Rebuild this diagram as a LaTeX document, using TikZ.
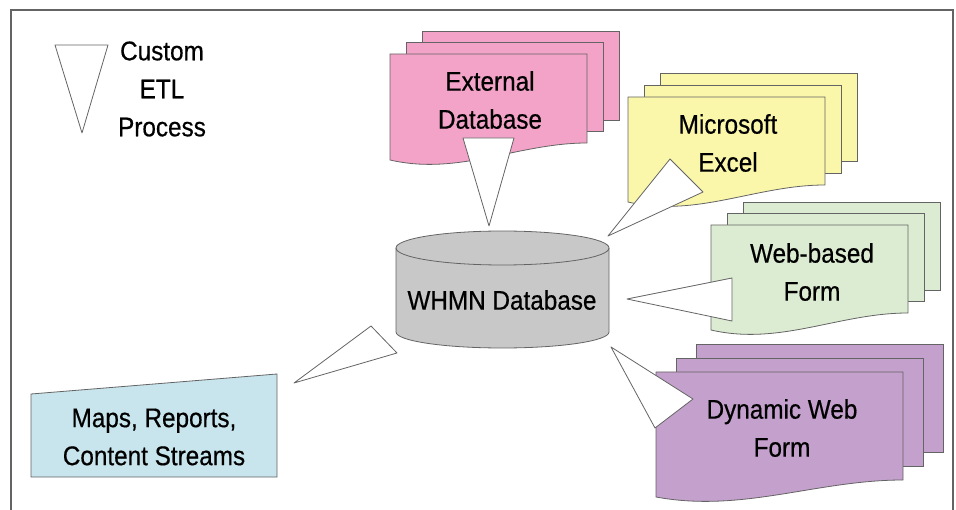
\documentclass[tikz,border=0pt]{standalone}
\usepackage{fontspec}
\setmainfont{Liberation Sans}[FakeStretch=0.9, FakeBold=0.5]
\definecolor{extpink}{RGB}{242,163,199}
\definecolor{xlsyellow}{RGB}{250,246,170}
\definecolor{webgreen}{RGB}{220,236,210}
\definecolor{dynpurple}{RGB}{196,160,204}
\definecolor{mapblue}{RGB}{200,228,236}
\definecolor{dbgray}{RGB}{200,200,200}
\definecolor{edgegray}{RGB}{100,100,100}
\tikzset{
  page/.style={draw=edgegray, line width=0.8pt},
  etl/.style={draw=edgegray, line width=0.8pt, fill=white, line join=round},
  label/.style={align=center, inner sep=0pt, font=\fontsize{27}{38}\selectfont},
}
% stack of three pages: fill, left, right, top, left bottom, right bottom, back dx, back dy
\newcommand{\docstack}[8]{%
  \draw[page, fill=#1] ({#2+#7},{#4-#8}) rectangle ({#3+#7},{#6-#8});
  \draw[page, fill=#1] ({#2+#7/2},{#4-#8/2}) rectangle ({#3+#7/2},{#6-#8/2});
  \draw[page, fill=#1] (#2,#4) -- (#3,#4) -- (#3,#6)
    .. controls ({#3-0.35*(#3-#2)},#6) and ({#2+0.35*(#3-#2)},{#5+16}) .. (#2,#5) -- cycle;
}
\begin{document}
\begin{tikzpicture}[x=1pt, y=-1pt]
  \useasboundingbox (0,0) rectangle (956,510);
  % outer frame, open at the bottom
  \draw[edgegray, line width=1.2pt] (11,515) -- (11,10) -- (953,10) -- (953,515);

  % sources
  \docstack{extpink}{390}{587}{54}{160}{143}{32}{23}
  \docstack{xlsyellow}{628}{825}{97}{202}{185}{32}{24}
  \docstack{webgreen}{711}{908}{225}{330}{313}{32}{23}
  \docstack{dynpurple}{656}{903}{372}{497}{480}{40}{28}

  % output
  \draw[page, fill=mapblue] (31,394) -- (277,374) -- (277,477) -- (31,477) -- cycle;

  % central database
  \draw[page, fill=dbgray] (396,248) -- (396,332)
    arc[start angle=180, end angle=0, x radius=106.5, y radius=16]
    -- (609,248) arc[start angle=0, end angle=-180, x radius=106.5, y radius=17] -- cycle;
  \draw[page] (396,248) arc[start angle=180, end angle=0, x radius=106.5, y radius=17];

  % ETL wedges
  \draw[etl] (55,45) -- (108,45) -- (82,133) -- cycle;
  \draw[etl] (463,138) -- (514,138) -- (489,226) -- cycle;
  \draw[etl] (670,159) -- (703,192) -- (608,236) -- cycle;
  \draw[etl] (732,278) -- (732,321) -- (627,299) -- cycle;
  \draw[etl] (611,347) -- (693,399) -- (655,428) -- cycle;
  \draw[etl] (371,326) -- (397,353) -- (294,383) -- cycle;

  % texts
  \node[label] (legend) at (162,89) {Custom\\ETL\\Process};
  \node[label] (ext) at (490,100) {External\\Database};
  \node[label] (excel) at (728,143) {Microsoft\\Excel};
  \node[label] (webform) at (812,272) {Web-based\\Form};
  \node[label] (dynform) at (782,428) {Dynamic Web\\Form};
  \node[label] (whmn) at (502,300) {WHMN Database};
  \node[label] (maps) at (154,437) {Maps, Reports,\\Content Streams};
\end{tikzpicture}
\end{document}
